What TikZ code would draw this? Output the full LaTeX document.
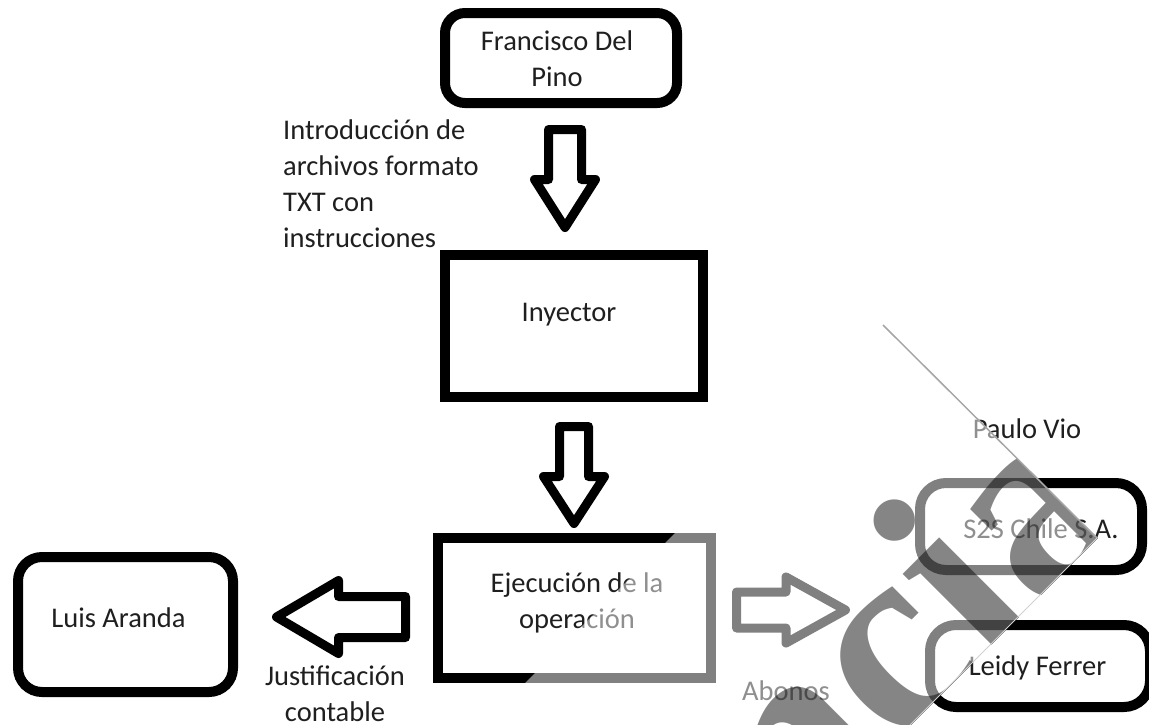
\documentclass[tikz,border=0pt]{standalone}
\usepackage{fontspec}
\setmainfont{Carlito}
\newfontfamily\wmfont{Liberation Serif}
\usetikzlibrary{calc}
\begin{document}
\begin{tikzpicture}[x=1pt,y=-1pt,
  txt/.style={font=\fontsize{28.5}{36}\selectfont, text=black!88, inner sep=0pt},
  boxbase/.style={draw=black, line width=10pt, inner sep=0pt, fill=white},
  sqbox/.style={boxbase},
  rbox/.style={boxbase, rounded corners=24pt},
  fat/.style={draw=black, fill=white, line width=9pt, line join=round}
]
\useasboundingbox (0,0) rectangle (1149,724);
\clip (0,0) rectangle (1149,724);
\fill[white] (0,0) rectangle (1149,724);

% boxes
\node[rbox, rounded corners=20pt, minimum width=232pt, minimum height=90pt] (fdp) at (561,58) {};
\node[sqbox, minimum width=258pt, minimum height=142pt] (iny) at (574,326) {};
\node[sqbox, minimum width=273pt, minimum height=140pt] (eje) at (574.5,608) {};
\node[rbox, minimum width=215pt, minimum height=135pt] (luis) at (125.5,624.5) {};
\node[rbox, rounded corners=26pt, minimum width=222pt, minimum height=87pt] (s2s) at (1031,526.5) {};
\node[rbox, rounded corners=26pt, minimum width=220pt, minimum height=82pt] (leidy) at (1040,666) {};

% block arrows (tip coordinates)
\coordinate (a1) at (565,227.5);
\coordinate (a2) at (574,523.5);
\coordinate (a3) at (276.5,617);
\coordinate (a4) at (845.5,610);
\draw[fat] (a1) -- ++(-30.5,-48) -- ++(14,0) -- ++(0,-50) -- ++(33,0) -- ++(0,50) -- ++(14,0) -- cycle;
\draw[fat] (a2) -- ++(-30.5,-47) -- ++(16,0) -- ++(0,-50) -- ++(29,0) -- ++(0,50) -- ++(16,0) -- cycle;
\draw[fat] (a3) -- ++(62,-36.5) -- ++(0,16) -- ++(67,0) -- ++(0,41) -- ++(-67,0) -- ++(0,16) -- cycle;
\draw[fat] (a4) -- ++(-59.5,-33) -- ++(0,15) -- ++(-49.5,0) -- ++(0,36) -- ++(49.5,0) -- ++(0,15) -- cycle;

% texts (multi-line nodes: base = last line)
\node[txt, anchor=base, align=center] (tfdp) at (557,86) {Francisco Del\\Pino};
\node[txt, anchor=base west, align=left] (tintro) at (283,247) {Introducción de\\archivos formato\\TXT con\\instrucciones};
\node[txt, anchor=base] (tiny) at (569,321) {Inyector};
\node[txt, anchor=base, align=center] (teje) at (577,628) {Ejecución de la\\operación};
\node[txt, anchor=base] (tluis) at (118.5,627) {Luis Aranda};
\node[txt, anchor=base, align=center] (tjust) at (335,721) {Justificación\\contable};
\node[txt, anchor=base] (tab) at (786,700) {Abonos};
\node[txt, anchor=base] (tpaulo) at (1027,438) {Paulo Vio};
\node[txt, anchor=base] (ts2s) at (1041,538) {S2S Chile S.A.};
\node[txt, anchor=base] (tleidy) at (1037.5,675) {Leidy Ferrer};

% watermark band
\coordinate (wT) at (883,325);
\coordinate (wR) at (1097,538);
\fill[white, fill opacity=0.5] (wT) -- (wR) -- ++(-600,600) -- ($(wT)+(-600,600)$) -- cycle;
\begin{scope}
  \clip (wT) -- (wR) -- ++(-600,600) -- ($(wT)+(-600,600)$) -- cycle;
  \node[rotate=45, anchor=base, inner sep=0pt, text=black, text opacity=0.48,
        font=\wmfont\bfseries\fontsize{275}{275}\selectfont] (wm) at (966,690) {ncia};
\end{scope}
\draw[black!35, line width=1.5pt] (wT) -- (wR);
\draw[black!18, line width=1pt] (wR) -- ++(-600,600);
\end{tikzpicture}
\end{document}
